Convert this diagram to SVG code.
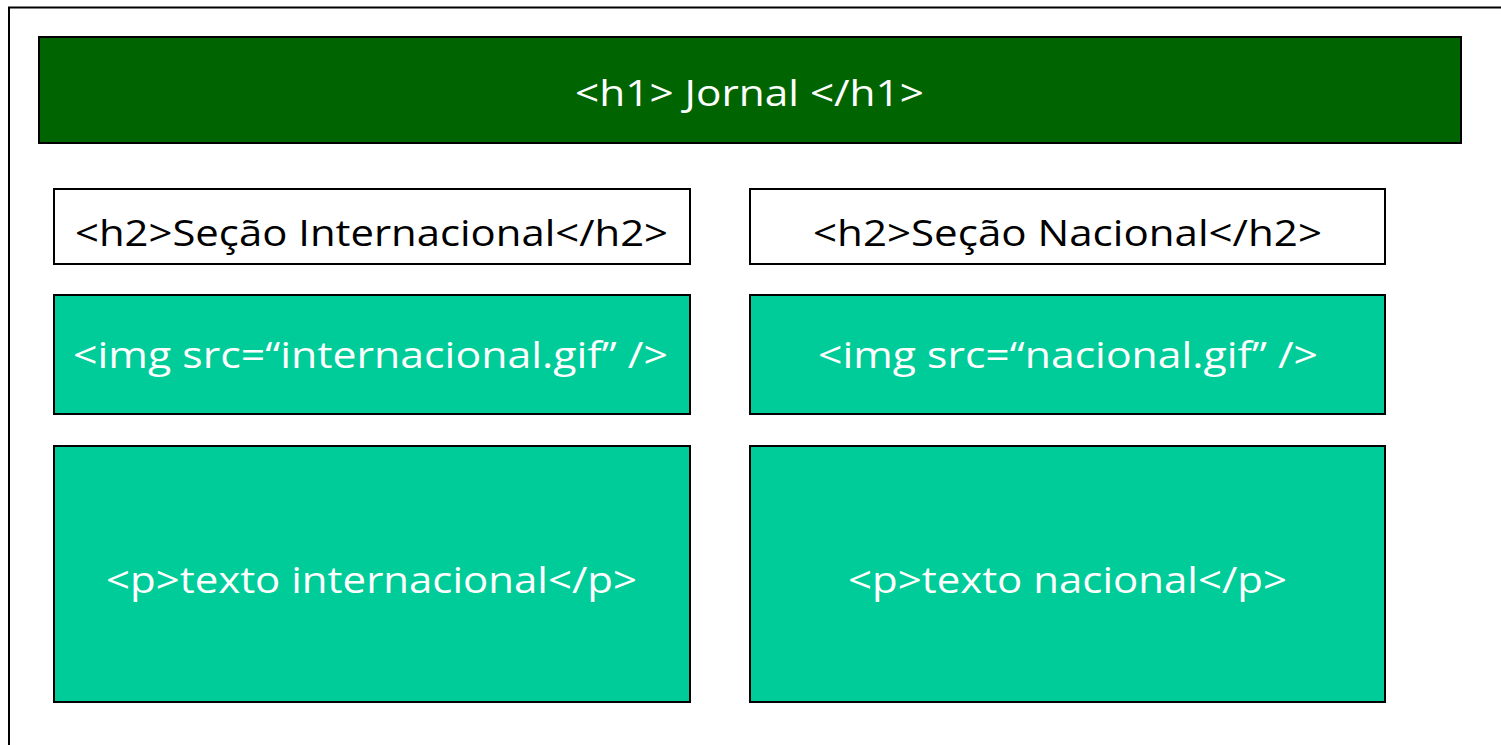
<svg xmlns="http://www.w3.org/2000/svg" width="1501" height="745" viewBox="0 0 1501 745">
<style>
.box{stroke:#000;stroke-width:2}
.dk{fill:#006400}
.tl{fill:#00CC99}
.wh{fill:#fff}
text{font-family:"Open Sans","Noto Sans",sans-serif;font-size:37px;text-anchor:start}
.tw{fill:#fff}
.tb{fill:#000}
</style>
<rect width="1501" height="745" fill="#fff"/>
<g id="frame"><path d="M9,745 V7.5 H1501" fill="none" stroke="#000" stroke-width="2"/></g>
<g id="h1"><rect class="box dk" x="39" y="37" width="1422" height="106"/><text class="tw" x="575" y="106" textLength="349" lengthAdjust="spacingAndGlyphs">&lt;h1&gt; Jornal &lt;/h1&gt;</text></g>
<g id="h2-int"><rect class="box wh" x="54" y="189" width="636" height="75"/><text class="tb" x="75" y="246" textLength="593" lengthAdjust="spacingAndGlyphs">&lt;h2&gt;Seção Internacional&lt;/h2&gt;</text></g>
<g id="h2-nac"><rect class="box wh" x="750" y="189" width="635" height="75"/><text class="tb" x="813" y="246" textLength="509" lengthAdjust="spacingAndGlyphs">&lt;h2&gt;Seção Nacional&lt;/h2&gt;</text></g>
<g id="img-int"><rect class="box tl" x="54" y="295" width="636" height="119"/><text class="tw" x="73" y="368" textLength="595" lengthAdjust="spacingAndGlyphs">&lt;img src=“internacional.gif” /&gt;</text></g>
<g id="img-nac"><rect class="box tl" x="750" y="295" width="635" height="119"/><text class="tw" x="818" y="368" textLength="500" lengthAdjust="spacingAndGlyphs">&lt;img src=“nacional.gif” /&gt;</text></g>
<g id="p-int"><rect class="box tl" x="54" y="446" width="636" height="256"/><text class="tw" x="106" y="593" textLength="531" lengthAdjust="spacingAndGlyphs">&lt;p&gt;texto internacional&lt;/p&gt;</text></g>
<g id="p-nac"><rect class="box tl" x="750" y="446" width="635" height="256"/><text class="tw" x="848" y="593" textLength="439" lengthAdjust="spacingAndGlyphs">&lt;p&gt;texto nacional&lt;/p&gt;</text></g>
<g id="connectors"/>
</svg>
